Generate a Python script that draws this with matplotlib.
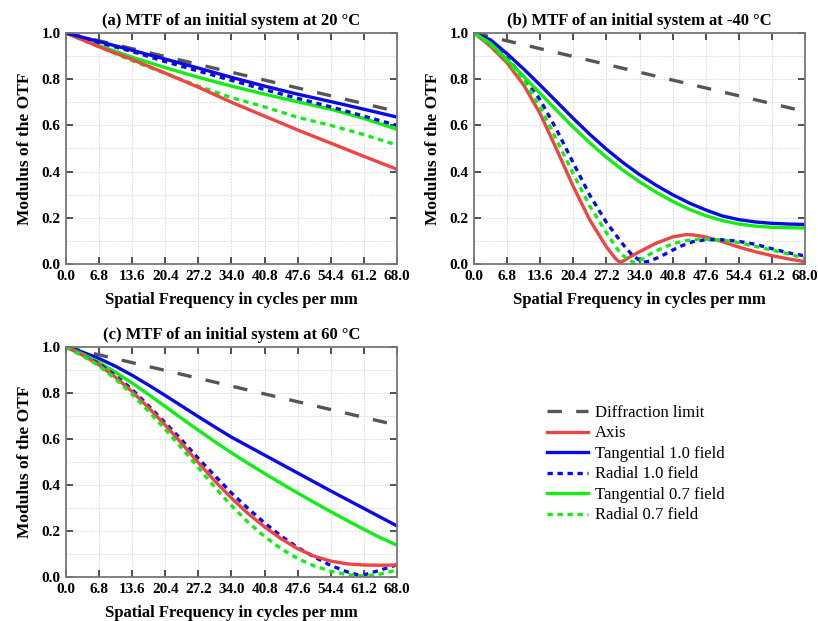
import matplotlib
matplotlib.use("Agg")
import matplotlib.pyplot as plt
from matplotlib.ticker import MultipleLocator, FixedLocator, FormatStrFormatter
from matplotlib.lines import Line2D

plt.rcParams['font.family'] = ['Liberation Serif', 'DejaVu Serif']

# ---------------- data ----------------
x_ticks = [0.0, 6.8, 13.6, 20.4, 27.2, 34.0, 40.8, 47.6, 54.4, 61.2, 68.0]
x_grid = [0.0, 3.4, 6.8, 10.2, 13.6, 17.0, 20.4, 23.8, 27.2, 30.6, 34.0,
          37.4, 40.8, 44.2, 47.6, 51.0, 54.4, 57.8, 61.2, 64.6, 68.0]

diff_x = x_ticks
diff_y = [1.0, 0.966, 0.932, 0.898, 0.864, 0.830, 0.796, 0.762, 0.728, 0.694, 0.66]

# (a) 20 °C
a_axis = [1.0, 0.94, 0.885, 0.826, 0.765, 0.70, 0.64, 0.58, 0.523, 0.466, 0.41]
a_tan10 = [1.0, 0.963, 0.925, 0.887, 0.848, 0.808, 0.77, 0.735, 0.703, 0.67, 0.636]
a_rad10 = [1.0, 0.958, 0.92, 0.876, 0.835, 0.795, 0.755, 0.717, 0.68, 0.64, 0.60]
a_tan07 = [1.0, 0.945, 0.895, 0.85, 0.808, 0.77, 0.735, 0.702, 0.67, 0.63, 0.583]
a_rad07 = [1.0, 0.94, 0.88, 0.825, 0.77, 0.72, 0.68, 0.635, 0.60, 0.56, 0.515]

# (b) -40 °C
b_tan10 = [1.0, 0.97, 0.91, 0.844, 0.774, 0.702, 0.63, 0.561, 0.497, 0.439, 0.387,
           0.341, 0.30, 0.264, 0.234, 0.208, 0.192, 0.182, 0.176, 0.173, 0.171]
b_tan07 = [1.0, 0.955, 0.885, 0.812, 0.738, 0.664, 0.592, 0.524, 0.462, 0.406, 0.356,
           0.311, 0.271, 0.237, 0.209, 0.188, 0.173, 0.164, 0.159, 0.157, 0.156]
b_axis_x = [0.0, 3.4, 6.8, 10.2, 13.6, 17.0, 20.4, 23.8, 27.2, 29.0, 29.9, 30.6, 32.0,
            34.0, 37.4, 40.8, 43.5, 45.0, 47.6, 51.0, 54.4, 57.8, 61.2, 64.6, 68.0]
b_axis_y = [1.0, 0.942, 0.87, 0.775, 0.65, 0.495, 0.335, 0.19, 0.074, 0.025, 0.008, 0.012, 0.03,
            0.053, 0.09, 0.117, 0.127, 0.126, 0.117, 0.097, 0.073, 0.053, 0.036, 0.022, 0.01]
b_rad10_x = [0.0, 3.4, 6.8, 10.2, 13.6, 17.0, 20.4, 23.8, 27.2, 30.6, 32.6, 34.7, 36.0,
             38.1, 40.8, 42.8, 45.0, 47.6, 51.0, 54.4, 57.8, 61.2, 64.6, 68.0]
b_rad10_y = [1.0, 0.957, 0.89, 0.81, 0.71, 0.58, 0.437, 0.297, 0.18, 0.085, 0.036, 0.007, 0.012,
             0.03, 0.06, 0.08, 0.097, 0.105, 0.105, 0.098, 0.085, 0.066, 0.048, 0.035]
b_rad07_x = [0.0, 3.4, 6.8, 10.2, 13.6, 17.0, 20.4, 23.8, 27.2, 29.9, 31.5, 33.0, 34.5,
             36.7, 40.8, 44.0, 46.2, 48.0, 51.7, 54.4, 58.5, 61.2, 64.6, 68.0]
b_rad07_y = [1.0, 0.949, 0.88, 0.795, 0.68, 0.535, 0.39, 0.25, 0.135, 0.051, 0.02, 0.005, 0.02,
             0.05, 0.088, 0.103, 0.107, 0.107, 0.102, 0.092, 0.073, 0.06, 0.043, 0.025]

# (c) 60 °C
c_axis = [1.0, 0.965, 0.922, 0.868, 0.806, 0.735, 0.66, 0.58, 0.497, 0.417, 0.343,
          0.276, 0.218, 0.166, 0.123, 0.09, 0.069, 0.057, 0.052, 0.051, 0.052]
c_tan10 = [1.0, 0.978, 0.95, 0.916, 0.877, 0.834, 0.789, 0.743, 0.697, 0.652, 0.608,
           0.569, 0.530, 0.491, 0.452, 0.413, 0.374, 0.336, 0.298, 0.26, 0.222]
c_tan07 = [1.0, 0.97, 0.933, 0.89, 0.843, 0.793, 0.741, 0.689, 0.638, 0.588, 0.54,
           0.494, 0.45, 0.407, 0.365, 0.324, 0.284, 0.245, 0.207, 0.171, 0.138]
c_rad10_x = [0.0, 3.4, 6.8, 10.2, 13.6, 17.0, 20.4, 23.8, 27.2, 30.6, 34.0, 37.4, 40.8,
             44.2, 47.6, 51.0, 54.4, 57.8, 60.0, 61.2, 64.6, 68.0]
c_rad10_y = [1.0, 0.963, 0.928, 0.875, 0.815, 0.743, 0.67, 0.595, 0.515, 0.44, 0.365, 0.298, 0.235,
             0.178, 0.128, 0.087, 0.05, 0.022, 0.009, 0.009, 0.03, 0.053]
c_rad07 = [1.0, 0.962, 0.918, 0.86, 0.795, 0.72, 0.642, 0.56, 0.475, 0.39, 0.31,
           0.238, 0.176, 0.123, 0.08, 0.048, 0.025, 0.01, 0.004, 0.013, 0.03]

titles = ["(a) MTF of an initial system at 20 °C",
          "(b) MTF of an initial system at -40 °C",
          "(c) MTF of an initial system at 60 °C"]
legend_labels = ["Diffraction limit", "Axis", "Tangential 1.0 field",
                 "Radial 1.0 field", "Tangential 0.7 field", "Radial 0.7 field"]

# ---------------- styles ----------------
C_GRAY = "#555555"
C_RED = "#EE4444"
C_BLUE = "#0A0AE6"
C_GREEN = "#11EE11"
LW = 2.4
st_diff = dict(color=C_GRAY, lw=LW, dashes=(4.3, 4.3))
st_axis = dict(color=C_RED, lw=LW)
st_tan10 = dict(color=C_BLUE, lw=LW)
st_rad10 = dict(color=C_BLUE, lw=LW, dashes=(1.6, 1.4))
st_tan07 = dict(color=C_GREEN, lw=LW)
st_rad07 = dict(color=C_GREEN, lw=LW, dashes=(1.6, 1.4))

fig = plt.figure(figsize=(8.18, 6.21), dpi=100)

positions = [[0.0807, 0.5749, 0.4046, 0.3720],
             [0.5795, 0.5749, 0.4046, 0.3720],
             [0.0807, 0.0709, 0.4046, 0.3703]]

panels = [
    [(x_ticks, a_rad07, st_rad07), (x_ticks, a_tan07, st_tan07), (x_ticks, a_rad10, st_rad10),
     (x_ticks, a_axis, st_axis), (diff_x, diff_y, st_diff), (x_ticks, a_tan10, st_tan10)],
    [(diff_x, diff_y, st_diff), (b_axis_x, b_axis_y, st_axis), (x_grid, b_tan10, st_tan10),
     (b_rad10_x, b_rad10_y, st_rad10), (x_grid, b_tan07, st_tan07), (b_rad07_x, b_rad07_y, st_rad07)],
    [(diff_x, diff_y, st_diff), (x_grid, c_tan10, st_tan10), (x_grid, c_tan07, st_tan07),
     (c_rad10_x, c_rad10_y, st_rad10), (x_grid, c_axis, st_axis), (x_grid, c_rad07, st_rad07)],
]

for pos, title, series in zip(positions, titles, panels):
    ax = fig.add_axes(pos)
    for xs, ys, st in series:
        ax.plot(xs, ys, solid_capstyle='butt', dash_capstyle='butt',
                solid_joinstyle='round', **st)
    ax.set_xlim(0, 68)
    ax.set_ylim(0, 1.0)
    ax.xaxis.set_major_locator(FixedLocator(x_ticks))
    ax.xaxis.set_major_formatter(FormatStrFormatter('%.1f'))
    ax.yaxis.set_major_locator(MultipleLocator(0.2))
    ax.yaxis.set_minor_locator(MultipleLocator(0.1))
    ax.yaxis.set_major_formatter(FormatStrFormatter('%.1f'))
    ax.grid(True, which='major', axis='x', linestyle=(0, (1.5, 1.5)), color='#d8d8d8', lw=0.7)
    ax.grid(True, which='both', axis='y', linestyle=(0, (1.5, 1.5)), color='#d8d8d8', lw=0.7)
    ax.tick_params(which='major', direction='in', top=True, right=True, length=5,
                   width=1.2, color='#333333', labelsize=11, pad=4)
    ax.tick_params(which='minor', length=0)
    for lab in ax.get_xticklabels() + ax.get_yticklabels():
        lab.set_fontweight('bold')
    for sp in ax.spines.values():
        sp.set_color('#777777')
        sp.set_linewidth(1.3)
    ax.set_title(title, fontsize=12, fontweight='bold', pad=6)
    ax.set_ylabel("Modulus of the OTF", fontsize=12.5, fontweight='bold', labelpad=6)
    ax.set_xlabel("Spatial Frequency in cycles per mm", fontsize=12, fontweight='bold', labelpad=7)

handles = [Line2D([], [], **st_diff), Line2D([], [], **st_axis), Line2D([], [], **st_tan10),
           Line2D([], [], **st_rad10), Line2D([], [], **st_tan07), Line2D([], [], **st_rad07)]
fig.legend(handles, legend_labels, loc='upper left', bbox_to_anchor=(0.65, 0.372),
           frameon=False, fontsize=12, handlelength=2.45, handletextpad=0.45,
           labelspacing=0.27, borderpad=0.4)

fig.savefig("out.png", dpi=100)
